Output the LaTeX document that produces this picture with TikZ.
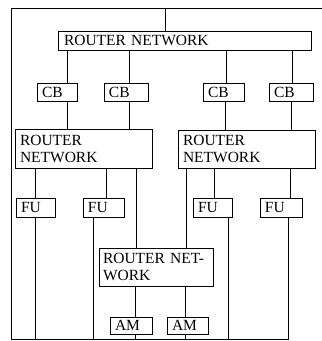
\documentclass[tikz,border=0pt]{standalone}
\usepackage{fontspec}
\setmainfont{Liberation Serif}
\begin{document}
\begin{tikzpicture}[x=1pt,y=-1pt,line width=0.8pt,
  box/.style={draw,rectangle,inner xsep=5pt,inner ysep=0pt,align=left,
    font=\fontsize{15.5}{17}\selectfont},
  wire/.style={draw}]
\useasboundingbox (0,0) rectangle (322,341);
% boxes
\node[box,text width=241pt,minimum height=19pt,inner xsep=6pt] (tr) at (184.5,40.5) {ROUTER NETWORK};
\node[box,text width=30pt,minimum height=18pt] (cb1) at (57,92) {CB};
\node[box,text width=34pt,minimum height=18pt] (cb2) at (126,92) {CB};
\node[box,text width=31pt,minimum height=18pt] (cb3) at (223.5,92) {CB};
\node[box,text width=34pt,minimum height=18pt] (cb4) at (291,92) {CB};
\node[box,text width=127pt,minimum height=39pt] (lr) at (83.5,148.5) {ROUTER\\NETWORK};
\node[box,text width=127pt,minimum height=38pt] (rr) at (246.5,149) {ROUTER\\NETWORK};
\node[box,text width=29pt,minimum height=19pt] (fu1) at (35.5,207.5) {FU};
\node[box,text width=31pt,minimum height=19pt] (fu2) at (103.5,207.5) {FU};
\node[box,text width=29pt,minimum height=19pt] (fu3) at (212.5,207.5) {FU};
\node[box,text width=32pt,minimum height=19pt] (fu4) at (281,207.5) {FU};
\node[box,text width=106pt,inner xsep=4pt,minimum height=38pt] (br) at (156,267) {\mbox{ROUTER NET-}\\WORK};
\node[box,text width=32pt,minimum height=17pt] (am1) at (131,325.5) {AM};
\node[box,text width=31pt,minimum height=17pt] (am2) at (187.5,325.5) {AM};
% frame
\coordinate (ftr) at (322,8);
\coordinate (ftl) at (11,8);
\coordinate (fbl) at (11,339.5);
\coordinate (fbr) at (289,339.5);
\draw[wire] (ftr) -- (ftl) -- (fbl) -- (fbr);
\draw[wire] (165,8) -- (165,0 |- tr.north);
% top router to CBs
\draw[wire] (67,0 |- tr.south) -- (67,0 |- cb1.north);
\draw[wire] (129,0 |- tr.south) -- (129,0 |- cb2.north);
\draw[wire] (226,0 |- tr.south) -- (226,0 |- cb3.north);
\draw[wire] (292,0 |- tr.south) -- (292,0 |- cb4.north);
% CBs to routers
\draw[wire] (67,0 |- cb1.south) -- (67,0 |- lr.north);
\draw[wire] (129,0 |- cb2.south) -- (129,0 |- lr.north);
\draw[wire] (225,0 |- cb3.south) -- (225,0 |- rr.north);
\draw[wire] (291,0 |- cb4.south) -- (291,0 |- rr.north);
% left router down
\draw[wire] (35,0 |- lr.south) -- (35,0 |- fu1.north);
\draw[wire] (106,0 |- lr.south) -- (106,0 |- fu2.north);
\draw[wire] (136,0 |- lr.south) -- (136,0 |- br.north);
% right router down
\draw[wire] (186,0 |- rr.south) -- (186,0 |- br.north);
\draw[wire] (214,0 |- rr.south) -- (214,0 |- fu3.north);
\draw[wire] (290,0 |- rr.south) -- (290,0 |- fu4.north);
% FUs to bottom
\draw[wire] (35,0 |- fu1.south) -- (35,0 |- fbl);
\draw[wire] (93,0 |- fu2.south) -- (93,0 |- fbl);
\draw[wire] (228,0 |- fu3.south) -- (228,0 |- fbl);
\draw[wire] (288,0 |- fu4.south) -- (288,0 |- fbl);
% bottom router to AMs
\draw[wire] (135,0 |- br.south) -- (135,0 |- am1.north);
\draw[wire] (185,0 |- br.south) -- (185,0 |- am2.north);
\draw[wire] (135,0 |- am1.south) -- (135,0 |- fbl);
\draw[wire] (185,0 |- am2.south) -- (185,0 |- fbl);
\end{tikzpicture}
\end{document}
